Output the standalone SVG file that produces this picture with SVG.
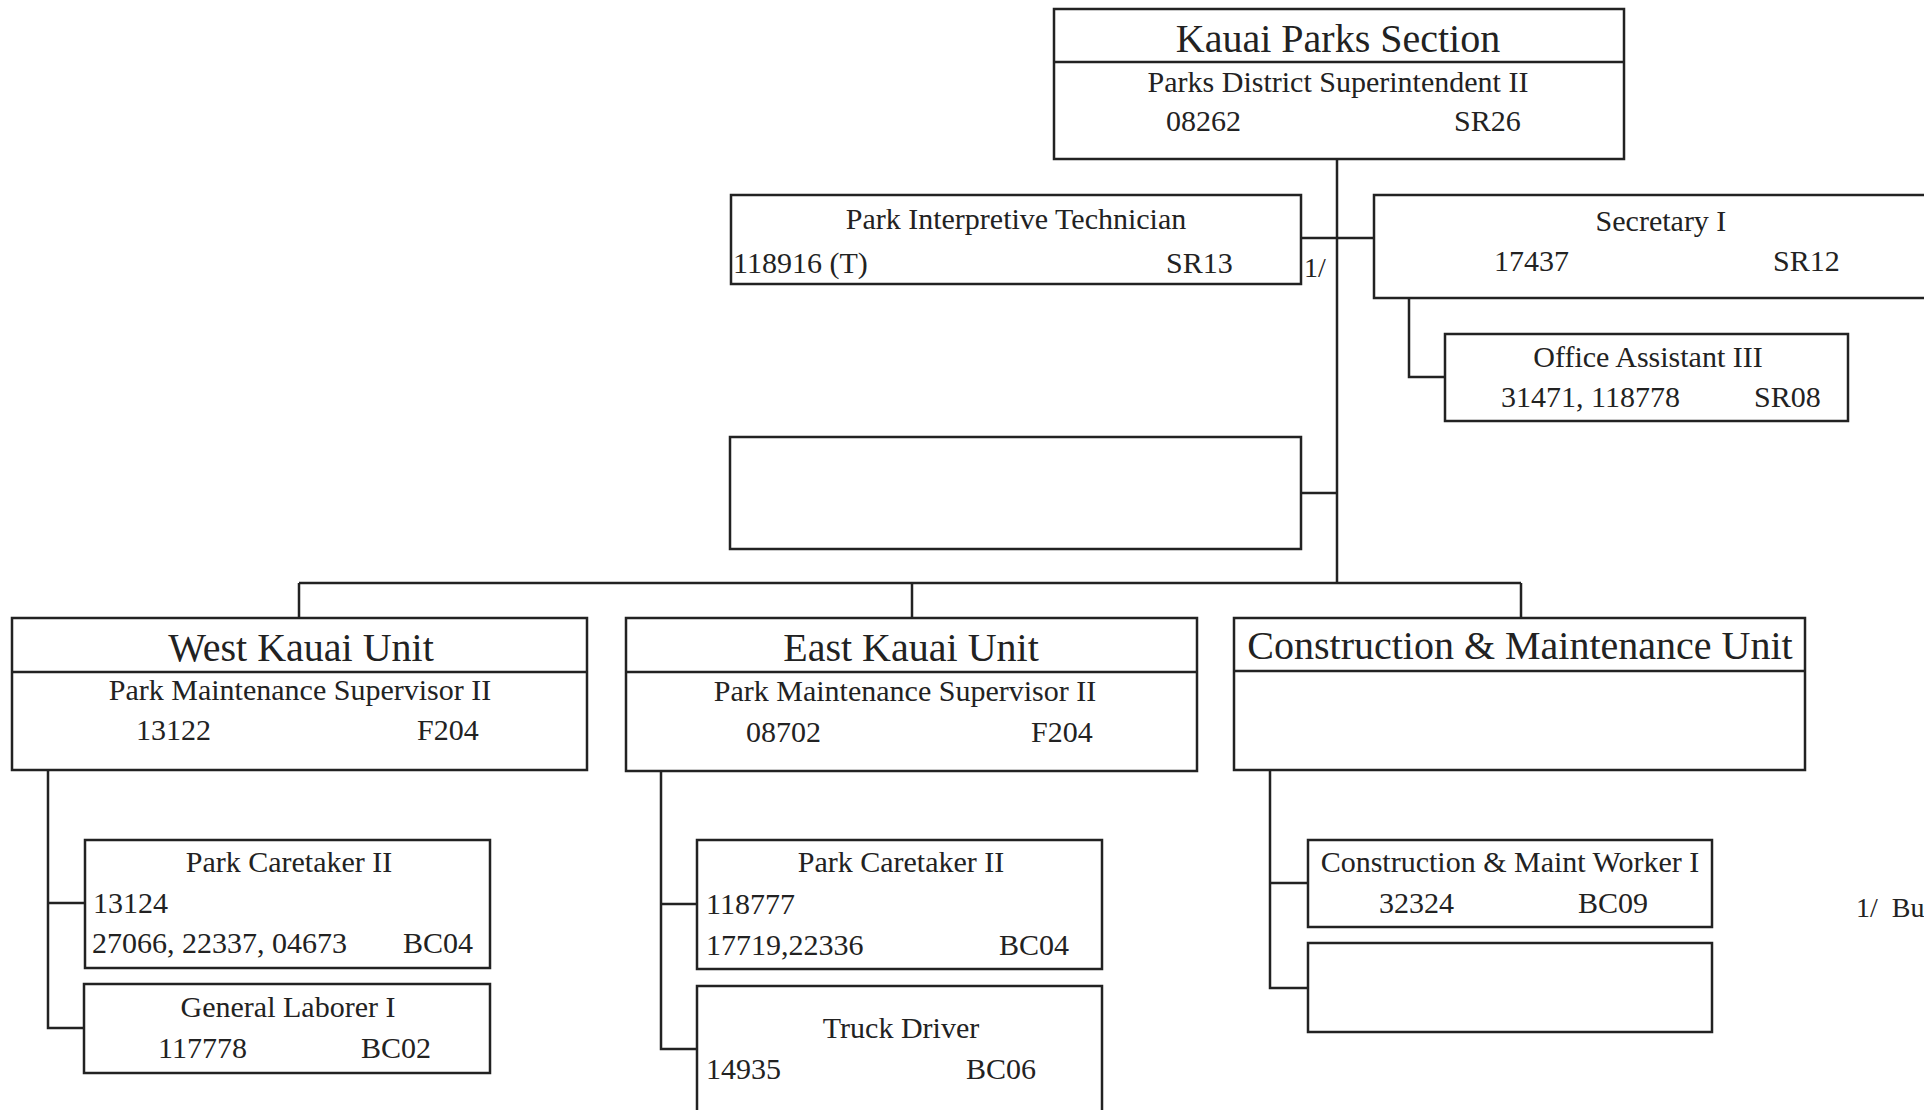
<svg xmlns="http://www.w3.org/2000/svg" width="1924" height="1110" viewBox="0 0 1924 1110">
<style>
.box{fill:#fff;stroke:#222;stroke-width:2.5}
.ln{fill:none;stroke:#222;stroke-width:2.5}
text{font-family:"Liberation Serif","Times New Roman",serif;fill:#222;font-size:30px}
.t{font-size:40px;text-anchor:middle}
.c{text-anchor:middle}
.n{font-size:28px}
</style>
<rect width="1924" height="1110" fill="#fff"/>
<g id="connectors">
<path class="ln" d="M1337 159 V583"/>
<path class="ln" d="M299 583 H1521"/>
<path class="ln" d="M299 583 V618 M912 583 V618 M1521 583 V618"/>
<path class="ln" d="M1302 238 H1374"/>
<path class="ln" d="M1301 493 H1337"/>
<path class="ln" d="M1409 298 V377 H1445"/>
<path class="ln" d="M48 770 V1028 H84 M48 903 H85"/>
<path class="ln" d="M661 771 V1049 H697 M661 904 H697"/>
<path class="ln" d="M1270 770 V988 H1308 M1270 883 H1308"/>
</g>
<g id="kauai-parks-section">
<rect class="box" x="1054" y="9" width="570" height="150"/>
<line class="ln" x1="1054" y1="62" x2="1624" y2="62"/>
<text class="t" x="1338" y="52">Kauai Parks Section</text>
<text class="c" x="1338" y="92">Parks District Superintendent II</text>
<text x="1166" y="131">08262</text>
<text x="1454" y="131">SR26</text>
</g>
<g id="park-interpretive-technician">
<rect class="box" x="731" y="195" width="570" height="89"/>
<text class="c" x="1016" y="229">Park Interpretive Technician</text>
<text x="733" y="273">118916 (T)</text>
<text x="1166" y="273">SR13</text>
<text class="n" x="1304" y="277">1/</text>
</g>
<g id="secretary">
<rect class="box" x="1374" y="195" width="580" height="103"/>
<text class="c" x="1661" y="231">Secretary I</text>
<text x="1494" y="271">17437</text>
<text x="1773" y="271">SR12</text>
</g>
<g id="office-assistant">
<rect class="box" x="1445" y="334" width="403" height="87"/>
<text class="c" x="1648" y="367">Office Assistant III</text>
<text x="1501" y="407">31471, 118778</text>
<text x="1754" y="407">SR08</text>
</g>
<g id="empty-staff">
<rect class="box" x="730" y="437" width="571" height="112"/>
</g>
<g id="west-kauai-unit">
<rect class="box" x="12" y="618" width="575" height="152"/>
<line class="ln" x1="12" y1="672" x2="587" y2="672"/>
<text class="t" x="301" y="661">West Kauai Unit</text>
<text class="c" x="300" y="700">Park Maintenance Supervisor II</text>
<text x="136" y="740">13122</text>
<text x="417" y="740">F204</text>
</g>
<g id="east-kauai-unit">
<rect class="box" x="626" y="618" width="571" height="153"/>
<line class="ln" x1="626" y1="672" x2="1197" y2="672"/>
<text class="t" x="911" y="661">East Kauai Unit</text>
<text class="c" x="905" y="701">Park Maintenance Supervisor II</text>
<text x="746" y="742">08702</text>
<text x="1031" y="742">F204</text>
</g>
<g id="construction-maintenance-unit">
<rect class="box" x="1234" y="618" width="571" height="152"/>
<line class="ln" x1="1234" y1="671" x2="1805" y2="671"/>
<text class="t" x="1520" y="659">Construction &amp; Maintenance Unit</text>
</g>
<g id="west-park-caretaker">
<rect class="box" x="85" y="840" width="405" height="128"/>
<text class="c" x="289" y="872">Park Caretaker II</text>
<text x="93" y="913">13124</text>
<text x="92" y="953">27066, 22337, 04673</text>
<text x="403" y="953">BC04</text>
</g>
<g id="general-laborer">
<rect class="box" x="84" y="984" width="406" height="89"/>
<text class="c" x="288" y="1017">General Laborer I</text>
<text x="158" y="1058">117778</text>
<text x="361" y="1058">BC02</text>
</g>
<g id="east-park-caretaker">
<rect class="box" x="697" y="840" width="405" height="129"/>
<text class="c" x="901" y="872">Park Caretaker II</text>
<text x="706" y="914">118777</text>
<text x="706" y="955">17719,22336</text>
<text x="999" y="955">BC04</text>
</g>
<g id="truck-driver">
<rect class="box" x="697" y="986" width="405" height="140"/>
<text class="c" x="901" y="1038">Truck Driver</text>
<text x="706" y="1079">14935</text>
<text x="966" y="1079">BC06</text>
</g>
<g id="construction-maint-worker">
<rect class="box" x="1308" y="840" width="404" height="87"/>
<text class="c" x="1510" y="872">Construction &amp; Maint Worker I</text>
<text x="1379" y="913">32324</text>
<text x="1578" y="913">BC09</text>
</g>
<g id="empty-construction">
<rect class="box" x="1308" y="943" width="404" height="89"/>
</g>
<g id="footnote">
<text class="n" x="1856" y="917" xml:space="preserve">1/  Bu</text>
</g>
</svg>
